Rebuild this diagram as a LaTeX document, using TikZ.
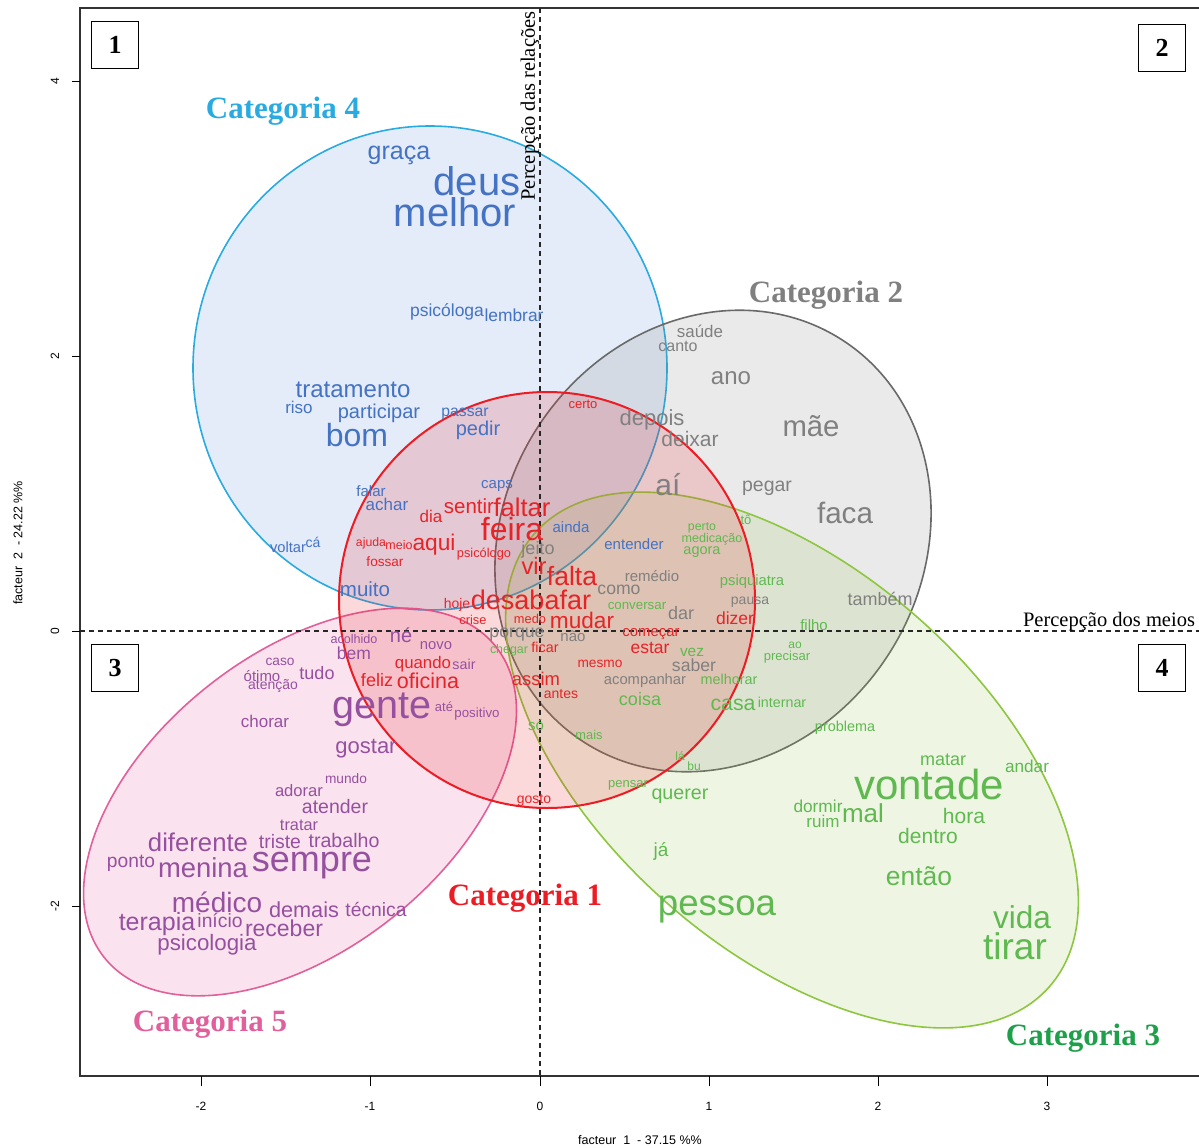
\documentclass[tikz,border=0pt]{standalone}
\usepackage{fontspec}
\setmainfont{Liberation Sans}
\newfontfamily\serifb{Liberation Serif}
\definecolor{cBlueS}{RGB}{41,171,226}
\definecolor{cBlueF}{RGB}{100,150,220}
\definecolor{cRedS}{RGB}{237,28,36}
\definecolor{cGrayS}{RGB}{105,105,105}
\definecolor{cGreenS}{RGB}{141,198,63}
\definecolor{cPinkS}{RGB}{225,95,155}
\definecolor{cPinkF}{RGB}{230,90,160}
\definecolor{wBlue}{RGB}{68,114,196}
\definecolor{wRed}{RGB}{232,35,40}
\definecolor{wGray}{RGB}{128,128,128}
\definecolor{wGreen}{RGB}{95,185,80}
\definecolor{wPurple}{RGB}{150,80,160}
\definecolor{cCat3}{RGB}{30,160,75}
\begin{document}
\begin{tikzpicture}[x=1pt,y=-1pt,
  word/.style={anchor=base, inner sep=0pt},
  catlabel/.style={font=\serifb\bfseries\fontsize{31}{31}\selectfont, inner sep=0pt},
  numbox/.style={draw, line width=1.5pt, minimum width=47pt, minimum height=47pt, inner sep=0pt, font=\serifb\bfseries\fontsize{26}{26}\selectfont},
  axisdash/.style={dash pattern=on 5pt off 4pt, line width=1.2pt, black!85},
  ticklab/.style={font=\fontsize{12}{12}\selectfont, inner sep=0pt},
  plotframe/.style={line width=1.5pt, black!80},
  blob/.style={line width=1.6pt}
]
\useasboundingbox (0,0) rectangle (1199,1148);
\fill[white] (0,0) rectangle (1199,1148);

% ellipses
\filldraw[blob, draw=cBlueS, fill=cBlueF, fill opacity=0.18] (430,368) ellipse [x radius=237pt, y radius=242pt];
\filldraw[blob, draw=cGrayS, fill=gray, fill opacity=0.16, rotate around={57.5:(713,541)}] (713,541) ellipse [x radius=239pt, y radius=209pt];
\filldraw[blob, draw=cGreenS, fill=cGreenS, fill opacity=0.14, rotate around={-41.4:(792,760)}] (792,760) ellipse [x radius=343pt, y radius=190pt];
\filldraw[blob, draw=cPinkS, fill=cPinkF, fill opacity=0.17, rotate around={38.4:(300,802)}] (300,802) ellipse [x radius=250pt, y radius=148pt];
\filldraw[line width=2pt, draw=cRedS, fill=cRedS, fill opacity=0.17] (547,600) circle [radius=208pt];

% frame and axes
\draw[plotframe] (1199,8) -- (80,8) -- (80,1076) -- (1199,1076);
\draw[axisdash] (540,8) -- (540,1076);
\draw[axisdash] (80,631) -- (1199,631);
\foreach \tx/\tl in {201/-2,370/-1,540/0,709/1,878/2,1047/3}{
  \draw[line width=1pt] (\tx,1076) -- (\tx,1086);
  \node[ticklab] (xt\tx) at (\tx,1106) {\tl};}
\foreach \ty/\tl in {81/4,356/2,631/0,906/-2}{
  \draw[line width=1pt] (80,\ty) -- (72,\ty);
  \node[ticklab, rotate=90] (yt\ty) at (55,\ty) {\tl};}
\node[ticklab, font=\fontsize{12.5}{12.5}\selectfont] (xlab) at (640,1140) {facteur \ 1 \ - 37.15 \%\%};
\node[ticklab, font=\fontsize{12.5}{12.5}\selectfont, rotate=90] (ylab) at (18,543) {facteur \ 2 \ - 24.22 \%\%};

\node[font=\serifb\fontsize{20.5}{20.5}\selectfont, rotate=90, inner sep=0pt] (relac) at (530,106) {Percepção das relações};
\node[font=\serifb\fontsize{20.5}{20.5}\selectfont, inner sep=0pt] (meios) at (1109,622) {Percepção dos meios};

\node[numbox] (q1) at (115,45) {1};
\node[numbox] (q2) at (1162,48) {2};
\node[numbox] (q3) at (115,668) {3};
\node[numbox] (q4) at (1162,668) {4};

\node[catlabel, text=cBlueS] (cat4) at (283,111) {Categoria 4};
\node[catlabel, text=wGray] (cat2) at (826,295) {Categoria 2};
\node[catlabel, text=cRedS] (cat1) at (525,898) {Categoria 1};
\node[catlabel, text=cPinkS] (cat5) at (210,1024) {Categoria 5};
\node[catlabel, text=cCat3] (cat3) at (1083,1038) {Categoria 3};

% blue words
\foreach \x/\y/\s/\t [count=\i] in {399/151/25/graça, 477/182/40/deus, 455/213/40/melhor,
  447/311/17.5/psicóloga, 514/316/17.4/lembrar, 353/390/24/tratamento, 299/408/17/riso,
  379/412/20/participar, 357/436/32/bom, 465/411/15.7/passar, 478/429/20/pedir,
  497/484/15/caps, 371/492/15/falar, 387/505/17/achar, 288/548/14.7/voltar, 313/543/14/cá,
  365/590/20.5/muito, 571/528/15/ainda, 634/545/15/entender}
  \node[word, text=wBlue, font=\fontsize{\s}{\s}\selectfont] (bw\i) at (\x,{\y+0.33*\s}) {\t};

% gray words
\foreach \x/\y/\s/\t [count=\i] in {700/332/16.9/saúde, 678/346/16/canto, 731/377/24/ano,
  652/418/22/depois, 690/440/21/deixar, 811/427/29.3/mãe, 668/486/30/aí, 767/485/19.5/pegar,
  845/514/29.6/faca, 538/549/18/jeito, 652/577/15/remédio, 619/589/17.6/como, 750/600/14/pausa,
  681/614/18/dar, 880/600/18/também, 573/637/15/não, 694/666/17.6/saber,
  645/680/14.8/acompanhar, 517/632/17.7/porque}
  \node[word, text=wGray, font=\fontsize{\s}{\s}\selectfont] (gw\i) at (\x,{\y+0.33*\s}) {\t};

% green words
\foreach \x/\y/\s/\t [count=\i] in {702/526/12.3/perto, 746/520/13/tô, 712/538/12.6/medicação,
  702/550/14.5/agora, 752/581/14.8/psiquiatra, 637/605/13.3/conversar, 814/626/15/filho,
  509/649/12.4/chegar, 692/651/15.4/vez, 795/645/12/ao, 787/656/13/precisar,
  729/680/14.4/melhorar, 640/700/18/coisa, 733/703/21.3/casa, 782/703/14.3/internar,
  536/726/15/só, 589/735/12.8/mais, 845/727/14.4/problema, 680/757/12/lá, 694/767/12/bu,
  628/783/13/pensar, 680/793/19.7/querer, 943/760/18/matar, 1027/767/17.2/andar,
  929/786/42/vontade, 818/807/17.3/dormir, 823/822/17/ruim, 863/814/26/mal, 964/817/21/hora,
  928/837/21/dentro, 661/850/19/já, 919/877/26.4/então, 717/903/36.6/pessoa,
  1022/918/31.6/vida, 1015/947/37/tirar}
  \node[word, text=wGreen, font=\fontsize{\s}{\s}\selectfont] (ew\i) at (\x,{\y+0.33*\s}) {\t};

% purple words
\foreach \x/\y/\s/\t [count=\i] in {401/636/20/né, 354/639/12.6/acolhido, 354/654/17.5/bem,
  436/645/14.8/novo, 464/665/14.3/sair, 280/661/13.7/caso, 262/677/15/ótimo,
  273/685/14/atenção, 317/674/18/tudo, 382/705/39.6/gente, 444/707/13/até,
  477/713/13.3/positivo, 265/722/17/chorar, 366/746/22/gostar, 346/779/13.7/mundo,
  299/791/16.6/adorar, 335/807/19.5/atender, 299/825/16.3/tratar, 198/843/25.7/diferente,
  280/842/19.4/triste, 344/841/19.6/trabalho, 131/861/19.2/ponto, 203/868/27.4/menina,
  312/860/36/sempre, 217/903/28/médico, 304/910/21.7/demais, 376/910/19.3/técnica,
  157/922/25/terapia, 220/921/19.3/início, 284/929/23/receber, 207/943/22.3/psicologia}
  \node[word, text=wPurple, font=\fontsize{\s}{\s}\selectfont] (pw\i) at (\x,{\y+0.33*\s}) {\t};

% red words
\foreach \x/\y/\s/\t [count=\i] in {583/404/13/certo, 469/507/20.5/sentir, 522/508/25.6/faltar,
  512/530/32/feira, 431/517/17/dia, 371/542/12.3/ajuda, 399/545/12.5/meio, 434/543/22.7/aqui,
  484/553/12.8/psicólogo, 385/562/13.6/fossar, 534/567/23.7/vir, 572/577/26.5/falta,
  457/604/14/hoje, 531/601/27/desabafar, 473/620/12.8/crise, 530/619/12.8/medo,
  582/621/22.6/mudar, 651/632/14.9/começar, 735/619/17.5/dizer, 650/648/17.5/estar,
  545/648/14.3/ficar, 600/663/13.7/mesmo, 423/663/16.8/quando, 377/681/18/feliz,
  428/681/21.5/oficina, 536/679/18.4/assim, 561/694/14/antes, 534/799/14/gosto}
  \node[word, text=wRed, font=\fontsize{\s}{\s}\selectfont] (rw\i) at (\x,{\y+0.33*\s}) {\t};
\end{tikzpicture}
\end{document}
